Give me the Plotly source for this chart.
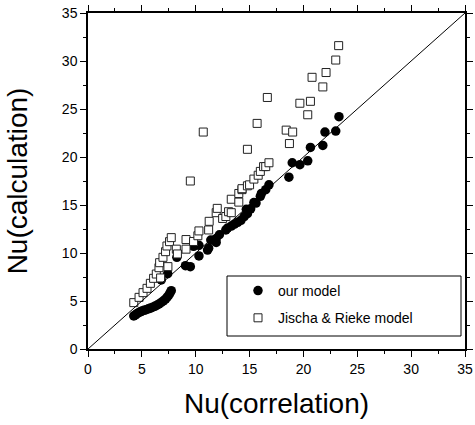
import plotly.graph_objects as go

# ---- data: our model (filled circles) ----
our_x = [4.25, 4.4, 4.55, 4.7, 4.85, 5.0, 5.2, 5.4, 5.6, 5.8, 6.0, 6.2, 6.4, 6.6, 6.8, 7.0, 7.2, 7.35, 7.5, 7.62, 7.73,
         6.8, 7.4, 8.25, 9.05, 9.5, 9.8, 10.3, 10.3, 11.1, 11.2, 11.4, 11.9, 11.9, 12.2, 12.8, 12.95, 13.3, 13.6, 13.9,
         14.2, 14.5, 14.7, 14.8, 15.1, 15.4, 15.6, 16.0, 16.1, 16.5, 16.8, 18.65, 18.96, 19.67, 20.4, 20.65, 21.8,
         22.0, 23.0, 23.3]
our_y = [3.45, 3.55, 3.68, 3.78, 3.87, 3.95, 4.03, 4.1, 4.18, 4.26, 4.35, 4.45, 4.57, 4.7, 4.85, 5.02, 5.2, 5.4, 5.62, 5.85, 6.07,
         7.2, 7.85, 9.55, 8.68, 8.57, 10.7, 9.7, 10.8, 10.3, 10.5, 11.35, 11.1, 11.5, 11.9, 12.4, 12.6, 12.8, 13.0, 13.2,
         13.4, 13.8, 14.55, 14.1, 14.6, 15.25, 15.2, 15.9, 16.2, 16.6, 17.1, 17.9, 19.4, 19.2, 19.6, 21.0, 21.2,
         22.6, 22.7, 24.2]

# ---- data: Jischa & Rieke model (open squares) ----
jr_x = [4.25, 4.74, 5.11, 5.48, 5.79, 6.09, 6.34, 6.59, 6.65, 6.96, 7.2, 7.33, 7.57, 7.73, 6.74, 7.42,
        8.2, 8.3, 9.1, 9.1, 9.5, 9.8, 10.2, 10.3, 10.7, 11.2, 11.25, 11.9, 12.0, 12.5, 12.8, 13.05, 13.3, 13.3,
        14.0, 14.0, 14.3, 14.3, 14.8, 14.8, 15.0, 15.4, 15.7, 15.8, 16.0, 16.3, 16.5, 16.65, 16.8,
        18.4, 18.7, 19.0, 19.67, 20.4, 20.65, 20.8, 21.8, 22.1, 23.0, 23.27]
jr_y = [4.83, 5.38, 5.87, 6.32, 6.84, 7.36, 7.81, 8.47, 8.99, 9.55, 10.14, 10.73, 11.18, 11.6, 7.4, 8.58,
        10.4, 9.9, 11.4, 10.4, 17.5, 11.2, 11.8, 12.3, 22.6, 12.4, 13.3, 14.2, 14.65, 13.6, 13.8, 14.3, 15.6, 14.2,
        15.3, 16.2, 16.6, 16.7, 17.0, 20.8, 17.1, 17.7, 23.5, 18.1, 18.5, 19.0, 19.0, 26.2, 19.4,
        22.8, 21.4, 22.6, 25.6, 24.4, 25.8, 28.3, 27.3, 28.8, 30.1, 31.6]

tick_vals = [0, 5, 10, 15, 20, 25, 30, 35]
x_title = "Nu(correlation)"
y_title = "Nu(calculation)"
names = ["our model", "Jischa & Rieke model"]

FONT = "Liberation Sans, Arial, sans-serif"

L, R, T, B = 88, 10, 13, 76
W, H = 475, 425
PW, PH = W - L - R, H - T - B

fig = go.Figure()
fig.add_trace(go.Scatter(
    x=our_x, y=our_y, mode="markers", name=names[0], legendgroup="a",
    marker=dict(symbol="circle", size=9.5, color="black", line=dict(width=0)),
))
fig.add_trace(go.Scatter(
    x=jr_x, y=jr_y, mode="markers", name=names[1], legendgroup="b",
    marker=dict(symbol="square", size=8, color="white", line=dict(width=1, color="#222222")),
))

fig.add_shape(type="line", xref="x", yref="y", x0=0, y0=0, x1=35, y1=35,
              line=dict(color="black", width=1))

# legend frame
fig.add_shape(type="rect", xref="paper", yref="paper",
              x0=(227 - L) / PW, x1=(461 - L) / PW,
              y0=(H - B - 336) / PH, y1=(H - B - 276) / PH,
              line=dict(color="black", width=1), fillcolor="rgba(0,0,0,0)")

axis_common = dict(
    range=[0, 35], tickvals=tick_vals, ticks="outside", ticklen=6, tickwidth=1,
    tickcolor="black", showline=True, linecolor="black", linewidth=1.5, mirror="ticks",
    showgrid=False, zeroline=False,
    tickfont=dict(family=FONT, size=14, color="black"),
    minor=dict(ticks="outside", ticklen=3, dtick=2.5, tickcolor="black", showgrid=False),
)

fig.update_xaxes(**axis_common, title=dict(text=x_title, font=dict(family=FONT, size=28, color="black"), standoff=18))
fig.update_yaxes(**axis_common, title=dict(text=y_title, font=dict(family=FONT, size=28, color="black"), standoff=26))

fig.update_layout(
    width=W, height=H,
    margin=dict(l=L, r=R, t=T, b=B, autoexpand=False),
    plot_bgcolor="white", paper_bgcolor="white",
    showlegend=True,
    legend=dict(
        x=(238 - L) / PW, y=(H - B - 275) / PH, xanchor="left", yanchor="top",
        bgcolor="rgba(0,0,0,0)", borderwidth=0,
        font=dict(family=FONT, size=14, color="black"),
        tracegroupgap=6, itemsizing="trace",
    ),
    font=dict(family=FONT, color="black"),
)

fig.write_html("out.html", config={"displayModeBar": False},
               post_script="document.body.style.margin='0';document.body.style.overflow='hidden';")
